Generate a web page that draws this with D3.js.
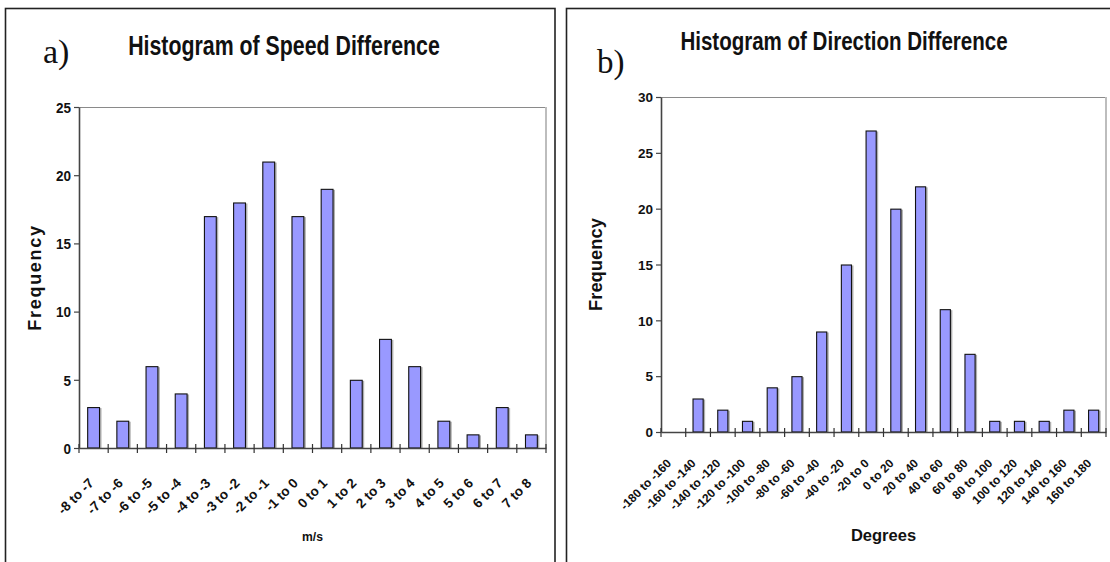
<!DOCTYPE html>
<html>
<head>
<meta charset="utf-8">
<script src="https://cdn.jsdelivr.net/npm/d3@7"></script>
<style>
  html, body { margin: 0; padding: 0; background: #fff; }
  svg { display: block; }
</style>
</head>
<body>
<svg id="chart" width="1110" height="562"></svg>
<script>
// ---- Data ----
const speedCategories = ["-8 to -7","-7 to -6","-6 to -5","-5 to -4","-4 to -3","-3 to -2","-2 to -1","-1 to 0","0 to 1","1 to 2","2 to 3","3 to 4","4 to 5","5 to 6","6 to 7","7 to 8"];
const speedCounts = [3,2,6,4,17,18,21,17,19,5,8,6,2,1,3,1];
const speedTicks = [0,5,10,15,20,25];

const dirCategories = ["-180 to -160","-160 to -140","-140 to -120","-120 to -100","-100 to -80","-80 to -60","-60 to -40","-40 to -20","-20 to 0","0 to 20","20 to 40","40 to 60","60 to 80","80 to 100","100 to 120","120 to 140","140 to 160","160 to 180"];
const dirCounts = [0,3,2,1,4,5,9,15,27,20,22,11,7,1,1,1,2,2];
const dirTicks = [0,5,10,15,20,25,30];

const SANS = "'Liberation Sans', Arial, Helvetica, sans-serif";
const SERIF = "'Liberation Serif', 'Times New Roman', Times, serif";

const svg = d3.select("#chart");
svg.append("rect").attr("width",1110).attr("height",562).attr("fill","#fff");

// panel frames
svg.append("rect").attr("x",5.5).attr("y",8.5).attr("width",549.5).attr("height",570)
  .attr("fill","none").attr("stroke","#222").attr("stroke-width",1.6);
svg.append("rect").attr("x",566.5).attr("y",8.5).attr("width",560).attr("height",570)
  .attr("fill","none").attr("stroke","#222").attr("stroke-width",1.6);

function drawPanel(cfg) {
  const g = svg.append("g");
  const x = d3.scaleBand().domain(cfg.cats).range([cfg.x0, cfg.x1])
    .paddingInner(cfg.pad).paddingOuter(cfg.pad/2);
  const y = d3.scaleLinear().domain([0, d3.max(cfg.ticks)]).range([cfg.yb, cfg.yt]);

  // plot area border (top, right)
  g.append("line").attr("x1",cfg.x0).attr("x2",cfg.x1).attr("y1",cfg.yt+0.5).attr("y2",cfg.yt+0.5)
    .attr("stroke","#8a8a8a").attr("stroke-width",1);
  g.append("line").attr("x1",cfg.x1).attr("x2",cfg.x1).attr("y1",cfg.yt).attr("y2",cfg.yb)
    .attr("stroke","#bdbdbd").attr("stroke-width",2);

  const bars = cfg.cats.map((c,i)=>({c, v: cfg.vals[i]})).filter(d => d.v > 0);
  g.selectAll("rect.shadow").data(bars).enter().append("rect")
    .attr("x", d => x(d.c) + 1.5).attr("y", d => y(d.v) + 1)
    .attr("width", x.bandwidth()).attr("height", d => y(0) - y(d.v) - 1)
    .attr("fill","#b0b0b0");
  g.selectAll("rect.bar").data(bars).enter().append("rect")
    .attr("x", d => x(d.c) + 0.5).attr("y", d => y(d.v) + 0.5)
    .attr("width", x.bandwidth() - 1).attr("height", d => y(0) - y(d.v) - 0.5)
    .attr("fill","#9999ff").attr("stroke","#111").attr("stroke-width",1.1);

  // y axis
  const ya = g.append("g").attr("transform",`translate(${cfg.x0},0)`)
    .call(d3.axisLeft(y).tickValues(cfg.ticks).tickSize(5).tickSizeOuter(0));
  ya.select(".domain").attr("stroke","#444").attr("stroke-width",1.6);
  ya.selectAll(".tick line").attr("stroke","#444").attr("stroke-width",1.2);
  ya.selectAll(".tick text")
    .attr("x", 0).attr("dy", null)
    .attr("transform", `translate(-8,${cfg.tickFont*0.35}) scale(${cfg.tickSx},1)`)
    .attr("fill","#111")
    .style("font-family", SANS).style("font-size", cfg.tickFont + "px").style("font-weight","bold");

  // x axis
  const xa = g.append("g").attr("transform",`translate(0,${cfg.yb})`)
    .call(d3.axisBottom(x).tickSize(0).tickSizeOuter(0));
  xa.select(".domain").attr("stroke","#444").attr("stroke-width",1.6);
  xa.selectAll(".tick text")
    .attr("x",0).attr("y",0).attr("dy",null)
    .attr("text-anchor","end")
    .attr("transform", `translate(${cfg.lblDx},${cfg.lblDy}) scale(${cfg.lblSx},1) rotate(-45)`)
    .attr("fill","#111")
    .style("font-family", SANS).style("font-size", cfg.lblFont + "px").style("font-weight","bold");
  // category-boundary tick marks crossing the axis
  const bounds = d3.range(cfg.cats.length + 1).map(i => cfg.x0 + i * x.step());
  g.selectAll("line.bt").data(bounds).enter().append("line")
    .attr("x1", d => d).attr("x2", d => d)
    .attr("y1", cfg.yb - 4).attr("y2", cfg.yb + 5)
    .attr("stroke","#333").attr("stroke-width",1.2);

  // Frequency label
  g.append("text")
    .attr("transform", `translate(${cfg.freqX},${(cfg.yt+cfg.yb)/2}) rotate(-90)`)
    .attr("text-anchor","middle").attr("fill","#111")
    .style("font-family", SANS).style("font-size", cfg.freqFont + "px").style("font-weight","bold")
    .style("letter-spacing", cfg.freqLs + "px").text("Frequency");

  // x title
  g.append("text")
    .attr("transform", `translate(${(cfg.x0+cfg.x1)/2},${cfg.xtY}) scale(${cfg.xtSx},1)`)
    .attr("text-anchor","middle").attr("fill","#111")
    .style("font-family", SANS).style("font-size", cfg.xtFont + "px").style("font-weight","bold")
    .text(cfg.xTitle);

  // chart title
  g.append("text")
    .attr("transform", `translate(${cfg.titleX},${cfg.titleY}) scale(${cfg.titleSx},1)`)
    .attr("text-anchor","middle").attr("fill","#111")
    .style("font-family", SANS).style("font-size", cfg.titleFont + "px").style("font-weight","bold")
    .text(cfg.title);

  // panel letter
  g.append("text").attr("x", cfg.letterX).attr("y", cfg.letterY).attr("fill","#111")
    .style("font-family", SERIF).style("font-size", cfg.letterFont + "px").style("font-weight","normal")
    .text(cfg.letter);
}

drawPanel({
  cats: speedCategories, vals: speedCounts, ticks: speedTicks,
  x0: 79, x1: 546, yt: 107, yb: 448, pad: 0.56,
  tickFont: 15, tickSx: 0.9,
  lblFont: 13.5, lblSx: 1, lblDx: 1, lblDy: 36,
  freqX: 41, freqFont: 18, freqLs: 1.7,
  xTitle: "m/s", xtY: 541, xtFont: 13.5, xtSx: 0.9,
  title: "Histogram of Speed Difference", titleX: 284, titleY: 55, titleFont: 27, titleSx: 0.79,
  letter: "a)", letterX: 43, letterY: 63, letterFont: 34
});

drawPanel({
  cats: dirCategories, vals: dirCounts, ticks: dirTicks,
  x0: 661, x1: 1106, yt: 97, yb: 432, pad: 0.55,
  tickFont: 13.5, tickSx: 1,
  lblFont: 12, lblSx: 1, lblDx: -1.5, lblDy: 32,
  freqX: 602, freqFont: 18.4, freqLs: 0,
  xTitle: "Degrees", xtY: 541, xtFont: 16.5, xtSx: 1,
  title: "Histogram of Direction Difference", titleX: 844, titleY: 50, titleFont: 26, titleSx: 0.79,
  letter: "b)", letterX: 597, letterY: 73, letterFont: 33
});
</script>
</body>
</html>
